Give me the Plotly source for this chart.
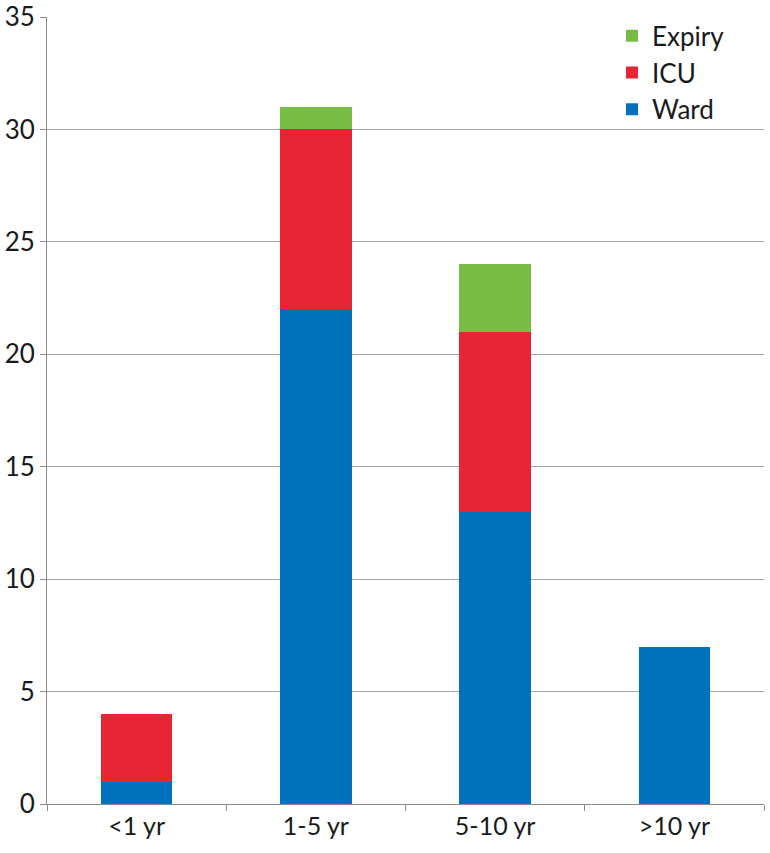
import plotly.graph_objects as go

categories = ["<1 yr", "1-5 yr", "5-10 yr", ">10 yr"]
ward = [1, 22, 13, 7]
icu = [3, 8, 8, 0]
expiry = [0, 1, 3, 0]
y_ticks = [0, 5, 10, 15, 20, 25, 30, 35]

colors = {"Ward": "#0071BC", "ICU": "#E72535", "Expiry": "#77BD45"}

fig = go.Figure()
for name, vals in [("Ward", ward), ("ICU", icu), ("Expiry", expiry)]:
    fig.add_trace(go.Bar(x=categories, y=vals, name=name,
                         marker=dict(color=colors[name], line=dict(width=0))))

fig.update_layout(
    barmode="stack",
    bargap=0.6,
    width=770, height=853,
    margin=dict(l=47, r=6, t=17, b=49),
    paper_bgcolor="white", plot_bgcolor="white",
    font=dict(family="Lato, Liberation Sans, sans-serif", color="#1a1a1a"),
    legend=dict(x=0.788, y=1.006, xanchor="left", yanchor="top",
                traceorder="reversed", font=dict(size=26),
                bgcolor="rgba(0,0,0,0)", itemwidth=30, tracegroupgap=0),
    showlegend=True,
)
fig.update_xaxes(showline=True, linecolor="#8c8c8c", linewidth=1, automargin=False,
                 ticks="outside", tickson="boundaries", ticklen=6, tickcolor="#8c8c8c",
                 tickfont=dict(size=25), showgrid=False)
fig.update_yaxes(range=[0, 35], tickvals=y_ticks, showline=True, linecolor="#8c8c8c",
                 linewidth=1, ticks="outside", ticklen=6, tickcolor="#8c8c8c", automargin=False,
                 showgrid=True, gridcolor="#a6a6a6", gridwidth=1,
                 tickfont=dict(size=26), zeroline=False)

fig.write_html("out.html", config={"displayModeBar": False},
               post_script="document.body.style.margin='0';")
